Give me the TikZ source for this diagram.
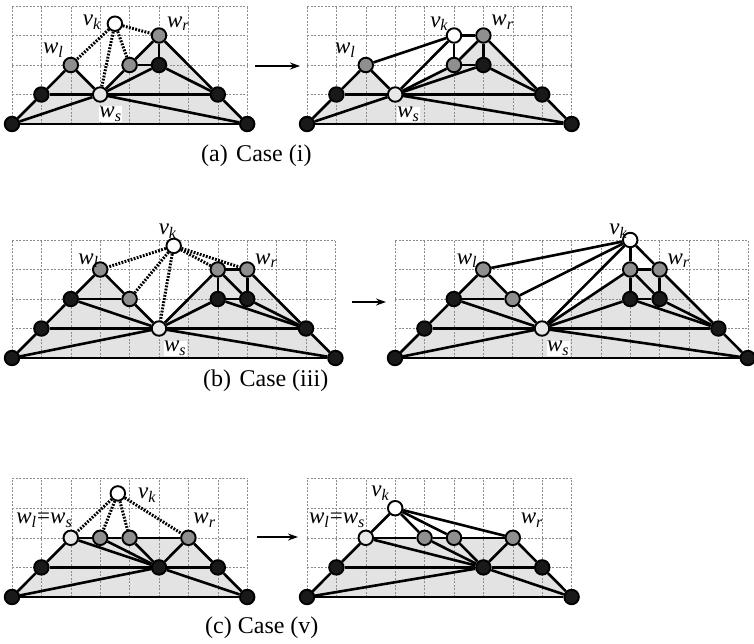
\documentclass[tikz,border=0pt]{standalone}
\usepackage{fontspec}
\setmainfont{Liberation Serif}
\usetikzlibrary{arrows.meta}
\pgfdeclarelayer{bg}
\pgfsetlayers{bg,main}
\definecolor{shadecol}{gray}{0.89}
\definecolor{gridcol}{gray}{0.55}
\definecolor{graynode}{gray}{0.56}
\definecolor{lightnode}{gray}{0.91}
\definecolor{blacknode}{gray}{0.1}
\newcommand{\vlab}[2]{\textit{#1}\textsubscript{\textit{#2}}}
\newcommand{\drawgridlines}[2]{%
  \foreach \gi in {0,...,#1} {\draw[gridline] (\gi,0) -- (\gi,#2);}
  \foreach \gj in {1,...,#2} {\draw[gridline] (0,\gj) -- (#1,\gj);}}
\tikzset{
  vtx/.style={circle, draw=black, line width=1.9pt, minimum size=14.5pt, inner sep=0pt},
  bv/.style={vtx, fill=blacknode},
  gv/.style={vtx, fill=graynode},
  wv/.style={vtx, fill=white},
  lv/.style={vtx, fill=lightnode},
  lnk/.style={line width=2.6pt},
  dotlnk/.style={line width=3pt, dash pattern=on 1.8pt off 1.4pt},
  region/.style={fill=shadecol},
  gridline/.style={draw=gridcol, line width=0.6pt, dash pattern=on 2pt off 1.5pt},
  lab/.style={font=\fontsize{23}{26}\selectfont, inner sep=0pt},
  slab/.style={lab, fill=white, inner sep=0.5pt},
  captext/.style={font=\fontsize{24}{27}\selectfont, anchor=base west, inner sep=0pt},
  arr/.style={line width=1.3pt, -{Stealth[length=10pt,width=7pt]}},
}
\begin{document}
\begin{tikzpicture}
\useasboundingbox (0pt,0pt) rectangle (754pt,-643pt);

% ---------------- (a) left ----------------
\begin{scope}[shift={(12pt,-124pt)}, x=29.4pt, y=29.5pt]
  \begin{pgfonlayer}{bg}
    \fill[region] (0,0) -- (1,1) -- (2,2) -- (3,1) -- (4,2) -- (5,3) -- (7,1) -- (8,0) -- cycle;
    \drawgridlines{8}{4}
  \end{pgfonlayer}
  \node[bv] (a1) at (0,0) {};
  \node[bv] (a2) at (8,0) {};
  \node[bv] (a3) at (1,1) {};
  \node[lv] (a4) at (3,1) {};
  \node[bv] (a5) at (7,1) {};
  \node[gv] (a6) at (2,2) {};
  \node[gv] (a7) at (4,2) {};
  \node[bv] (a8) at (5,2) {};
  \node[gv] (a9) at (5,3) {};
  \node[wv] (a10) at (3.5,3.4) {};
  \draw[lnk] (a1) -- (a2);
  \draw[lnk] (a1) -- (a3); \draw[lnk] (a3) -- (a6); \draw[lnk] (a6) -- (a4);
  \draw[lnk] (a3) -- (a4); \draw[lnk] (a4) -- (a5);
  \draw[lnk] (a1) -- (a4); \draw[lnk] (a4) -- (a2);
  \draw[lnk] (a4) -- (a7); \draw[lnk] (a7) -- (a8); \draw[lnk] (a4) -- (a8);
  \draw[lnk] (a8) -- (a9); \draw[lnk] (a7) -- (a9);
  \draw[lnk] (a9) -- (a5); \draw[lnk] (a8) -- (a5); \draw[lnk] (a5) -- (a2);
  \draw[dotlnk] (a10) -- (a6); \draw[dotlnk] (a10) -- (a4);
  \draw[dotlnk] (a10) -- (a7); \draw[dotlnk] (a10) -- (a9);
  \node[lab] (a10l) at (2.72,3.46) {\vlab{v}{k}};
  \node[lab] (a6l) at (1.4,2.5) {\vlab{w}{l}};
  \node[lab] (a9l) at (5.65,3.4) {\vlab{w}{r}};
  \node[slab] (a4l) at (3.35,0.34) {\vlab{w}{s}};
\end{scope}

\coordinate (arrA1) at (255pt,-66pt);
\coordinate (arrA2) at (300pt,-66pt);
\draw[arr] (arrA1) -- (arrA2);

% ---------------- (a) right ----------------
\begin{scope}[shift={(307pt,-124pt)}, x=29.4pt, y=29.5pt]
  \begin{pgfonlayer}{bg}
    \fill[region] (0,0) -- (1,1) -- (2,2) -- (3,1) -- (5,2) -- (6,3) -- (8,1) -- (9,0) -- cycle;
    \drawgridlines{9}{4}
  \end{pgfonlayer}
  \node[bv] (b1) at (0,0) {};
  \node[bv] (b2) at (9,0) {};
  \node[bv] (b3) at (1,1) {};
  \node[lv] (b4) at (3,1) {};
  \node[bv] (b5) at (8,1) {};
  \node[gv] (b6) at (2,2) {};
  \node[gv] (b7) at (5,2) {};
  \node[bv] (b8) at (6,2) {};
  \node[gv] (b9) at (6,3) {};
  \node[wv] (b10) at (5,3) {};
  \draw[lnk] (b1) -- (b2);
  \draw[lnk] (b1) -- (b3); \draw[lnk] (b3) -- (b6); \draw[lnk] (b6) -- (b4);
  \draw[lnk] (b3) -- (b4); \draw[lnk] (b4) -- (b5);
  \draw[lnk] (b1) -- (b4); \draw[lnk] (b4) -- (b2);
  \draw[lnk] (b4) -- (b7); \draw[lnk] (b7) -- (b8); \draw[lnk] (b4) -- (b8);
  \draw[lnk] (b8) -- (b9); \draw[lnk] (b7) -- (b9);
  \draw[lnk] (b9) -- (b5); \draw[lnk] (b8) -- (b5); \draw[lnk] (b5) -- (b2);
  \draw[lnk] (b6) -- (b10); \draw[lnk] (b4) -- (b10);
  \draw[lnk] (b10) -- (b7); \draw[lnk] (b10) -- (b9);
  \node[lab] (b10l) at (4.5,3.4) {\vlab{v}{k}};
  \node[lab] (b6l) at (1.3,2.5) {\vlab{w}{l}};
  \node[lab] (b9l) at (6.65,3.45) {\vlab{w}{r}};
  \node[slab] (b4l) at (3.45,0.32) {\vlab{w}{s}};
\end{scope}

\node[captext] (capa) at (201pt,-161pt) {(a)\hspace{0.35em}Case (i)};

% ---------------- (b) left ----------------
\begin{scope}[shift={(12pt,-358pt)}, x=29.4pt, y=29.5pt]
  \begin{pgfonlayer}{bg}
    \fill[region] (0,0) -- (1,1) -- (2,2) -- (3,3) -- (4,2) -- (5,1) -- (7,3) -- (8,3) -- (10,1) -- (11,0) -- cycle;
    \drawgridlines{11}{4}
  \end{pgfonlayer}
  \node[bv] (c1) at (0,0) {};
  \node[bv] (c2) at (11,0) {};
  \node[bv] (c3) at (1,1) {};
  \node[bv] (c4) at (2,2) {};
  \node[gv] (c5) at (3,3) {};
  \node[gv] (c6) at (4,2) {};
  \node[lv] (c7) at (5,1) {};
  \node[gv] (c8) at (7,3) {};
  \node[gv] (c9) at (8,3) {};
  \node[bv] (c10) at (7,2) {};
  \node[bv] (c11) at (8,2) {};
  \node[bv] (c12) at (10,1) {};
  \node[wv] (c13) at (5.5,3.8) {};
  \draw[lnk] (c1) -- (c2);
  \draw[lnk] (c1) -- (c3); \draw[lnk] (c3) -- (c4); \draw[lnk] (c4) -- (c5);
  \draw[lnk] (c5) -- (c6); \draw[lnk] (c4) -- (c6); \draw[lnk] (c6) -- (c7);
  \draw[lnk] (c4) -- (c7); \draw[lnk] (c3) -- (c7); \draw[lnk] (c7) -- (c12);
  \draw[lnk] (c1) -- (c7); \draw[lnk] (c7) -- (c2);
  \draw[lnk] (c7) -- (c8); \draw[lnk] (c7) -- (c10);
  \draw[lnk] (c8) -- (c9); \draw[lnk] (c8) -- (c10); \draw[lnk] (c9) -- (c11);
  \draw[lnk] (c10) -- (c11); \draw[lnk] (c8) -- (c11);
  \draw[lnk] (c9) -- (c12); \draw[lnk] (c10) -- (c12); \draw[lnk] (c11) -- (c12);
  \draw[lnk] (c12) -- (c2);
  \draw[dotlnk] (c13) -- (c5); \draw[dotlnk] (c13) -- (c6); \draw[dotlnk] (c13) -- (c7);
  \draw[dotlnk] (c13) -- (c8); \draw[dotlnk] (c13) -- (c9);
  \node[lab] (c13l) at (5.3,4.3) {\vlab{v}{k}};
  \node[lab] (c5l) at (2.6,3.3) {\vlab{w}{l}};
  \node[lab] (c9l) at (8.65,3.3) {\vlab{w}{r}};
  \node[slab] (c7l) at (5.55,0.33) {\vlab{w}{s}};
\end{scope}

\coordinate (arrB1) at (352pt,-302pt);
\coordinate (arrB2) at (386pt,-302pt);
\draw[arr] (arrB1) -- (arrB2);

% ---------------- (b) right ----------------
\begin{scope}[shift={(395pt,-358pt)}, x=29.4pt, y=29.5pt]
  \begin{pgfonlayer}{bg}
    \fill[region] (0,0) -- (1,1) -- (2,2) -- (3,3) -- (4,2) -- (5,1) -- (8,3) -- (9,3) -- (11,1) -- (12,0) -- cycle;
    \drawgridlines{12}{4}
  \end{pgfonlayer}
  \node[bv] (d1) at (0,0) {};
  \node[bv] (d2) at (12,0) {};
  \node[bv] (d3) at (1,1) {};
  \node[bv] (d4) at (2,2) {};
  \node[gv] (d5) at (3,3) {};
  \node[gv] (d6) at (4,2) {};
  \node[lv] (d7) at (5,1) {};
  \node[gv] (d8) at (8,3) {};
  \node[gv] (d9) at (9,3) {};
  \node[bv] (d10) at (8,2) {};
  \node[bv] (d11) at (9,2) {};
  \node[bv] (d12) at (11,1) {};
  \node[wv] (d13) at (8,4) {};
  \draw[lnk] (d1) -- (d2);
  \draw[lnk] (d1) -- (d3); \draw[lnk] (d3) -- (d4); \draw[lnk] (d4) -- (d5);
  \draw[lnk] (d5) -- (d6); \draw[lnk] (d4) -- (d6); \draw[lnk] (d6) -- (d7);
  \draw[lnk] (d4) -- (d7); \draw[lnk] (d3) -- (d7); \draw[lnk] (d7) -- (d12);
  \draw[lnk] (d1) -- (d7); \draw[lnk] (d7) -- (d2);
  \draw[lnk] (d7) -- (d8); \draw[lnk] (d7) -- (d10);
  \draw[lnk] (d8) -- (d9); \draw[lnk] (d8) -- (d10); \draw[lnk] (d9) -- (d11);
  \draw[lnk] (d10) -- (d11); \draw[lnk] (d8) -- (d11);
  \draw[lnk] (d9) -- (d12); \draw[lnk] (d10) -- (d12); \draw[lnk] (d11) -- (d12);
  \draw[lnk] (d12) -- (d2);
  \draw[lnk] (d13) -- (d5); \draw[lnk] (d13) -- (d6); \draw[lnk] (d13) -- (d7);
  \draw[lnk] (d13) -- (d8); \draw[lnk] (d13) -- (d9);
  \node[lab] (d13l) at (7.6,4.3) {\vlab{v}{k}};
  \node[lab] (d5l) at (2.45,3.3) {\vlab{w}{l}};
  \node[lab] (d9l) at (9.65,3.3) {\vlab{w}{r}};
  \node[slab] (d7l) at (5.55,0.33) {\vlab{w}{s}};
\end{scope}

\node[captext] (capb) at (203pt,-386pt) {(b)\hspace{0.35em}Case (iii)};

% ---------------- (c) left ----------------
\begin{scope}[shift={(12pt,-597pt)}, x=29.4pt, y=29.6pt]
  \begin{pgfonlayer}{bg}
    \fill[region] (0,0) -- (1,1) -- (2,2) -- (6,2) -- (7,1) -- (8,0) -- cycle;
    \drawgridlines{8}{4}
  \end{pgfonlayer}
  \node[bv] (e1) at (0,0) {};
  \node[bv] (e2) at (8,0) {};
  \node[bv] (e3) at (1,1) {};
  \node[lv] (e4) at (2,2) {};
  \node[gv] (e5) at (3,2) {};
  \node[gv] (e6) at (4,2) {};
  \node[gv] (e7) at (6,2) {};
  \node[bv] (e8) at (5,1) {};
  \node[bv] (e9) at (7,1) {};
  \node[wv] (e10) at (3.6,3.5) {};
  \draw[lnk] (e1) -- (e2);
  \draw[lnk] (e1) -- (e3); \draw[lnk] (e3) -- (e4);
  \draw[lnk] (e4) -- (e5); \draw[lnk] (e5) -- (e6); \draw[lnk] (e6) -- (e7);
  \draw[lnk] (e7) -- (e9); \draw[lnk] (e9) -- (e2);
  \draw[lnk] (e3) -- (e8); \draw[lnk] (e8) -- (e9);
  \draw[lnk] (e1) -- (e8); \draw[lnk] (e8) -- (e2);
  \draw[lnk] (e4) -- (e8); \draw[lnk] (e5) -- (e8); \draw[lnk] (e6) -- (e8); \draw[lnk] (e7) -- (e8);
  \draw[dotlnk] (e10) -- (e4); \draw[dotlnk] (e10) -- (e5);
  \draw[dotlnk] (e10) -- (e6); \draw[dotlnk] (e10) -- (e7);
  \node[lab] (e4l) at (1.1,2.6) {\vlab{w}{l}\kern0.5pt=\vlab{w}{s}};
  \node[lab] (e10l) at (4.6,3.45) {\vlab{v}{k}};
  \node[lab] (e7l) at (6.55,2.6) {\vlab{w}{r}};
\end{scope}

\coordinate (arrC1) at (257pt,-537pt);
\coordinate (arrC2) at (298pt,-537pt);
\draw[arr] (arrC1) -- (arrC2);

% ---------------- (c) right ----------------
\begin{scope}[shift={(307pt,-597pt)}, x=29.4pt, y=29.6pt]
  \begin{pgfonlayer}{bg}
    \fill[region] (0,0) -- (1,1) -- (2,2) -- (7,2) -- (8,1) -- (9,0) -- cycle;
    \drawgridlines{9}{4}
  \end{pgfonlayer}
  \node[bv] (f1) at (0,0) {};
  \node[bv] (f2) at (9,0) {};
  \node[bv] (f3) at (1,1) {};
  \node[lv] (f4) at (2,2) {};
  \node[gv] (f5) at (4,2) {};
  \node[gv] (f6) at (5,2) {};
  \node[gv] (f7) at (7,2) {};
  \node[bv] (f8) at (6,1) {};
  \node[bv] (f9) at (8,1) {};
  \node[wv] (f10) at (3,3) {};
  \draw[lnk] (f1) -- (f2);
  \draw[lnk] (f1) -- (f3); \draw[lnk] (f3) -- (f4);
  \draw[lnk] (f4) -- (f5); \draw[lnk] (f5) -- (f6); \draw[lnk] (f6) -- (f7);
  \draw[lnk] (f7) -- (f9); \draw[lnk] (f9) -- (f2);
  \draw[lnk] (f3) -- (f8); \draw[lnk] (f8) -- (f9);
  \draw[lnk] (f1) -- (f8); \draw[lnk] (f8) -- (f2);
  \draw[lnk] (f4) -- (f8); \draw[lnk] (f5) -- (f8); \draw[lnk] (f6) -- (f8); \draw[lnk] (f7) -- (f8);
  \draw[lnk] (f10) -- (f4); \draw[lnk] (f10) -- (f5);
  \draw[lnk] (f10) -- (f6); \draw[lnk] (f10) -- (f7);
  \node[lab] (f10l) at (2.5,3.5) {\vlab{v}{k}};
  \node[lab] (f4l) at (1.02,2.6) {\vlab{w}{l}\kern0.5pt=\vlab{w}{s}};
  \node[lab] (f7l) at (7.65,2.6) {\vlab{w}{r}};
\end{scope}

\node[captext] (capc) at (205pt,-633pt) {(c) Case (v)};
\end{tikzpicture}
\end{document}
